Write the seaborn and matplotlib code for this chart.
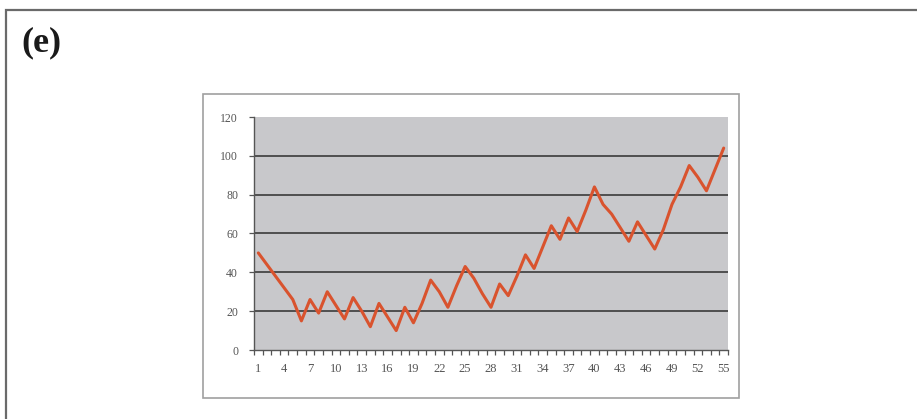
import numpy as np
import pandas as pd
import matplotlib
matplotlib.use("Agg")
import matplotlib.pyplot as plt
from matplotlib.patches import Rectangle
from matplotlib.ticker import FixedLocator
import seaborn as sns

# values, one per category 1..55
categories = list(range(1, 56))
values = [50, 44, 38, 32, 26, 15, 26, 19, 30, 23,
          16, 27, 20, 12, 24, 17, 10, 22, 14, 24,
          36, 30, 22, 33, 43, 37, 29, 22, 34, 28,
          38, 49, 42, 53, 64, 57, 68, 61, 72, 84,
          75, 70, 63, 56, 66, 59, 52, 62, 75, 84,
          95, 89, 82, 93, 104]
x_labels = [str(c) for c in categories[::3]]
y_ticks = [0, 20, 40, 60, 80, 100, 120]

df = pd.DataFrame({"cat": categories, "val": values})

sns.set_style("white")
plt.rcParams["font.family"] = ["Liberation Serif", "DejaVu Serif"]

W, H = 917, 419
fig = plt.figure(figsize=(W / 100, H / 100), dpi=100)

def fx(px):
    return px / W

def fy(py):
    return 1 - py / H

# outer panel frame (runs off the right and bottom edges)
fig.patches.append(Rectangle((fx(6), fy(440)), fx(940) - fx(6), fy(10) - fy(440),
                             transform=fig.transFigure, fill=False,
                             edgecolor="#6a6a6a", linewidth=1.6))
# chart box
fig.patches.append(Rectangle((fx(203), fy(398)), fx(739) - fx(203), fy(94) - fy(398),
                             transform=fig.transFigure, fill=False,
                             edgecolor="#a0a0a0", linewidth=1.2))

fig.text(fx(21), fy(43), "(e)", fontsize=26, fontweight="bold",
         family=["Liberation Serif", "DejaVu Serif"], va="center", ha="left",
         color="#1a1a1a")

ax = fig.add_axes([fx(254), fy(350), fx(728) - fx(254), fy(117) - fy(350)])
ax.set_facecolor("#c8c8cb")

for g in y_ticks[1:-1]:
    ax.axhline(g, color="#464646", linewidth=1.3, zorder=1)

sns.lineplot(data=df, x="cat", y="val", ax=ax, color="#d9532e",
             linewidth=2.2, zorder=3)
for ln in ax.lines:
    ln.set_solid_joinstyle("round")
    ln.set_solid_capstyle("round")

ax.set_xlim(0.5, 55.5)
ax.set_ylim(0, 120)
ax.set_xlabel("")
ax.set_ylabel("")

ax.set_xticks(categories[::3])
ax.set_xticklabels(x_labels)
ax.xaxis.set_minor_locator(FixedLocator(np.arange(0.5, 56, 1)))
ax.tick_params(axis="x", which="major", length=0, pad=9, labelsize=9,
               labelcolor="#555555")
ax.tick_params(axis="x", which="minor", length=3.5, width=0.9,
               color="#555555", direction="out", bottom=True)

ax.set_yticks(y_ticks)
ax.tick_params(axis="y", which="major", length=3.5, width=0.9,
               color="#555555", direction="out", left=True, pad=8,
               labelsize=8.5, labelcolor="#555555")

for side in ["top", "right"]:
    ax.spines[side].set_visible(False)
ax.spines["left"].set_color("#555555")
ax.spines["bottom"].set_color("#555555")
ax.spines["left"].set_linewidth(1.0)
ax.spines["bottom"].set_linewidth(1.0)

fig.savefig("out.png", dpi=100, facecolor="white")
